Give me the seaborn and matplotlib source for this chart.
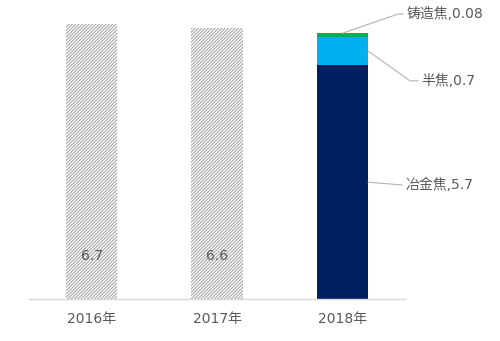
import numpy as np
import pandas as pd
import matplotlib
matplotlib.use("Agg")
import matplotlib.pyplot as plt
import seaborn as sns

# Coke output by year (100 million tonnes)
years = ["2016年", "2017年", "2018年"]
totals = [6.7, 6.6, np.nan]          # earlier years: totals only
metallurgical = [np.nan, np.nan, 5.7]  # 冶金焦
semi_coke = [np.nan, np.nan, 0.7]      # 半焦
foundry = [np.nan, np.nan, 0.08]       # 铸造焦
part_names = ["冶金焦", "半焦", "铸造焦"]

sns.set_theme(style="white")
plt.rcParams["font.family"] = ["DejaVu Sans", "Noto Sans CJK SC"]
plt.rcParams["hatch.linewidth"] = 0.8

TEXT = "#595959"
NAVY, CYAN, GREEN = "#002060", "#00B0F0", "#00B050"

df = pd.DataFrame({
    "year": years,
    "total": totals,
    "met": metallurgical,
    "semi": semi_coke,
    "foundry": foundry,
})
df["cum_semi"] = df["met"] + df["semi"]
df["cum_foundry"] = df["cum_semi"] + df["foundry"]

fig = plt.figure(figsize=(5.0, 3.41), dpi=100)
ax = fig.add_axes([0.058, 0.123, 0.752, 0.842])

width = 0.41
# hatched totals for 2016 / 2017
sns.barplot(data=df, x="year", y="total", color="white", edgecolor="#a8a8a8",
            hatch="//////////", linewidth=0, width=width, ax=ax)
# stacked 2018 composition, drawn back to front from cumulative heights
sns.barplot(data=df, x="year", y="cum_foundry", color=GREEN, linewidth=0,
            width=width, saturation=1, ax=ax)
sns.barplot(data=df, x="year", y="cum_semi", color=CYAN, linewidth=0,
            width=width, saturation=1, ax=ax)
sns.barplot(data=df, x="year", y="met", color=NAVY, linewidth=0,
            width=width, saturation=1, ax=ax)

# value labels inside the hatched bars
for i, v in enumerate(totals):
    if not np.isnan(v):
        ax.text(i, 1.05, f"{v:g}", ha="center", va="center", fontsize=10,
                color=TEXT)

# leader lines and labels for the 2018 components
lead = "#b3b3b3"
i18 = 2
f_top = df["cum_foundry"][i18]
s_mid = df["met"][i18] + df["semi"][i18] / 2
m_mid = df["met"][i18] / 2
callouts = [
    ((i18 + 0.0, f_top), (i18 + 0.446, 6.95), (i18 + 0.486, 6.95),
     f"{part_names[2]},{foundry[i18]:g}"),
    ((i18 + width / 2, s_mid), (i18 + 0.54, 5.32), (i18 + 0.606, 5.32),
     f"{part_names[1]},{semi_coke[i18]:g}"),
    ((i18 + width / 2, m_mid), (i18 + 0.478, 2.78), (i18 + 0.478, 2.78),
     f"{part_names[0]},{metallurgical[i18]:g}"),
]
for start, elbow, end, label in callouts:
    ax.plot([start[0], elbow[0], end[0]], [start[1], elbow[1], end[1]],
            color=lead, lw=0.8, clip_on=False)
    ax.text(end[0] + 0.025, end[1], label, ha="left", va="center",
            fontsize=10, color=TEXT)

ax.set_xlim(-0.5, 2.5)
ax.set_ylim(0, 7)
ax.set_xlabel("")
ax.set_ylabel("")
ax.set_yticks([])
ax.tick_params(axis="x", length=0, pad=9, labelsize=10, labelcolor=TEXT)
for side in ["left", "right", "top"]:
    ax.spines[side].set_visible(False)
ax.spines["bottom"].set_color("#d9d9d9")
ax.spines["bottom"].set_linewidth(1.0)

fig.savefig("out.png", dpi=100, facecolor="white")
